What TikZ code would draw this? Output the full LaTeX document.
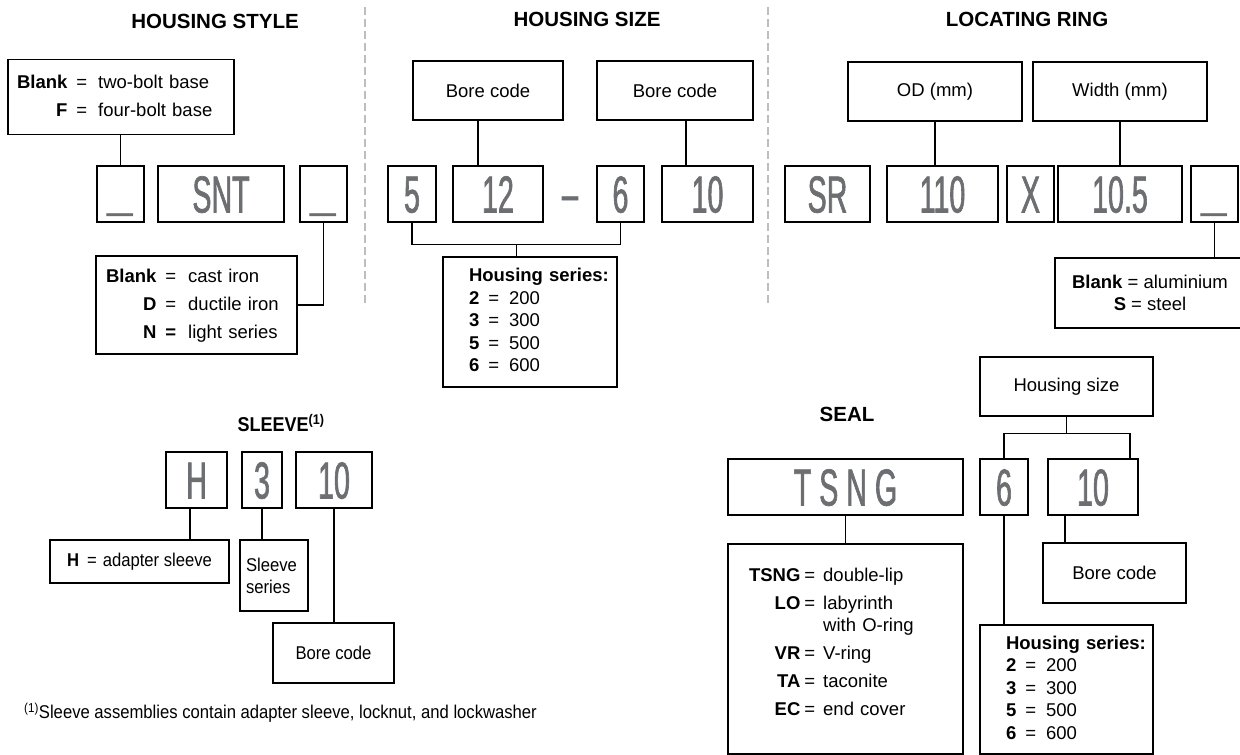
\documentclass[tikz,border=0pt]{standalone}
\usepackage{fontspec}
\setmainfont{Liberation Sans}
\newfontfamily\codefont[FakeStretch=0.55, FakeBold=1.2]{Liberation Sans}
\newfontfamily\narrowfont[FakeStretch=0.9]{Liberation Sans}
\usetikzlibrary{calc}
\definecolor{codegray}{HTML}{6D6E71}
\definecolor{rulegray}{HTML}{BDBEC0}
\newcommand{\blankmark}{\raisebox{5pt}{\normalfont\fontsize{46}{46}\selectfont\_}}
\newcommand{\seriestab}{\begin{tabular}{@{}l@{\hspace{9pt}}c@{\hspace{10pt}}l@{}}
  \multicolumn{3}{@{}l@{}}{\textbf{Housing series:}}\\
  \textbf{2} & = & 200\\
  \textbf{3} & = & 300\\
  \textbf{5} & = & 500\\
  \textbf{6} & = & 600
\end{tabular}}
\tikzset{
  box/.style={draw, line width=1.2pt, inner sep=0pt},
  code/.style={box, minimum height=56pt, text height=37pt, text depth=0pt,
    font=\fontsize{52}{52}\codefont, text=codegray},
  codetext/.style={inner sep=0pt, text height=37pt, text depth=0pt,
    font=\fontsize{52}{52}\codefont, text=codegray},
  note/.style={box, font=\fontsize{18.5}{28}\selectfont},
  heading/.style={font=\fontsize{20.5}{24}\selectfont\bfseries},
  link/.style={line width=1.2pt},
  divider/.style={rulegray, line width=1.3pt, dash pattern=on 8pt off 4pt},
}
\begin{document}
\begin{tikzpicture}[x=1pt, y=-1pt]
    \useasboundingbox (0,0) rectangle (1240,755);

    % headings and dividers
    \node[heading] (tstyle) at (215,21) {HOUSING STYLE};
    \node[heading] (tsize) at (587,19) {HOUSING SIZE};
    \node[heading] (tring) at (1027,19) {LOCATING RING};
    \draw[divider] (365,7) -- (365,307);
    \draw[divider] (768,7) -- (768,307);

    % code row
    \foreach \x/\w/\txt/\name in {
        120.5/47/\blankmark/hsa, 221/126/SNT/hssnt, 323.5/47/\blankmark/hsb,
        412/48/5/sz5, 498/90/12/sz12, 620.5/47/6/sz6, 707.5/91/10/sz10,
        827.5/85/SR/lrsr, 942.5/111/110/lrod110, 1030.5/47/X/lrx,
        1120/124/10.5/lrw105, 1214.5/47/\blankmark/lrb} {
        \node[code, minimum width=\w pt] (\name) at (\x,194) {\txt};
    }
    \node[codetext] (szdash) at (570,193) {–};

    % housing style
    \node[note, minimum width=226pt, minimum height=75pt, text width=208pt, align=left]
        (hsbase) at (121,97) {\begin{tabular}{@{}r@{\hspace{9pt}}c@{\hspace{11pt}}l@{}}
        \textbf{Blank} & = & two-bolt base\\
        \textbf{F} & = & four-bolt base
        \end{tabular}};
    \node[note, minimum width=201pt, minimum height=98pt, text width=181pt, align=left]
        (hsmat) at (196.5,305) {\begin{tabular}{@{}r@{\hspace{9pt}}c@{\hspace{12pt}}l@{}}
        \textbf{Blank} & = & cast iron\\
        \textbf{D} & = & ductile iron\\
        \textbf{N} & \textbf{=} & light series
        \end{tabular}};
    \draw[link] (hsbase.south -| hsa.north) -- (hsa.north);
    \draw[link] (hsb.south) |- (hsmat.east);

    % housing size
    \node[note, minimum width=150pt, minimum height=59pt] (szbore) at (488,90.5) {Bore code};
    \node[note, minimum width=156pt, minimum height=59pt] (szbore2) at (675,90.5) {Bore code};
    \node[note, minimum width=174pt, minimum height=130pt, text width=122pt, align=left,
        font=\fontsize{18.5}{22.5}\selectfont] (szser) at (530,322) {\seriestab};
    \draw[link] ([xshift=-20pt]sz12.north) -- ([xshift=-20pt]sz12.north |- szbore.south);
    \draw[link] ([xshift=-21.5pt]sz10.north) -- ([xshift=-21.5pt]sz10.north |- szbore2.south);
    \coordinate (szjoin) at ($(sz5.south)!0.5!(sz6.south)+(0,22)$);
    \draw[link] (sz5.south) -- (sz5.south |- szjoin) -- (sz6.south |- szjoin) -- (sz6.south);
    \draw[link] (szjoin) -- (szjoin |- szser.north);

    % locating ring
    \node[note, minimum width=174pt, minimum height=59pt] (lrod) at (935,91.5) {OD (mm)};
    \node[note, minimum width=174pt, minimum height=59pt] (lrwidth) at (1120,91.5) {Width (mm)};
    \node[note, minimum width=190pt, minimum height=70pt, align=center,
        font=\fontsize{18.5}{22}\selectfont] (lrmat) at (1150,293)
        {\textbf{Blank} = aluminium\\\textbf{S} = steel};
    \draw[link] (lrod.south) -- (lrod.south |- lrod110.north);
    \draw[link] (lrwidth.south) -- (lrwidth.south |- lrw105.north);
    \draw[link] (lrb.south) -- (lrb.south |- lrmat.north);

    % sleeve
    \node[heading, anchor=west, font=\fontsize{20}{24}\narrowfont\bfseries] (tsleeve) at (234,423)
        {SLEEVE\textsuperscript{(1)}};
    \foreach \x/\w/\txt/\name in {196.5/61/H/slh, 262/40/3/sl3, 334/76/10/sl10} {
        \node[code, minimum width=\w pt] (\name) at (\x,480) {\txt};
    }
    \node[note, minimum width=179pt, minimum height=43pt, font=\fontsize{18.5}{22}\narrowfont]
        (slhnote) at (139.5,561.5) {\textbf{H}\hspace{8pt}=\hspace{6pt}adapter sleeve};
    \node[note, minimum width=68pt, minimum height=71pt, text width=56pt, align=left,
        font=\fontsize{18.5}{22}\narrowfont] (slser) at (274,575.5) {Sleeve\\series};
    \node[note, minimum width=121pt, minimum height=60pt, font=\fontsize{18.5}{22}\narrowfont]
        (slbore) at (333.5,653) {Bore code};
    \draw[link] ([xshift=-6.5pt]slh.south) -- ([xshift=-6.5pt]slh.south |- slhnote.north);
    \draw[link] (sl3.south) -- (sl3.south |- slser.north);
    \draw[link] (sl10.south) -- (sl10.south |- slbore.north);
    \node[anchor=west, inner sep=0pt, font=\fontsize{18.5}{22}\narrowfont] (slfoot) at (24,713)
        {\textsuperscript{(1)}Sleeve assemblies contain adapter sleeve, locknut, and lockwasher};

    % seal
    \node[heading] (tseal) at (847,414) {SEAL};
    \node[note, minimum width=173pt, minimum height=59pt] (sealsize) at (1066.5,386.5) {Housing size};
    \foreach \x/\w/\txt/\name in {
        845.5/235/T\hspace{8pt}S\hspace{8pt}N\hspace{8pt}G/sealt,
        1004/48/6/seal6, 1093/90/10/seal10} {
        \node[code, minimum width=\w pt] (\name) at (\x,487) {\txt};
    }
    \node[note, minimum width=235pt, minimum height=210pt, text width=193pt, align=left,
        font=\fontsize{18.5}{22}\selectfont] (seallist) at (845.5,649)
        {\begin{tabular}{@{}r@{\hspace{4pt}}c@{\hspace{8pt}}l@{}}
        \textbf{TSNG} & = & double-lip\\[6pt]
        \textbf{LO} & = & labyrinth\\
         & & with O-ring\\[6pt]
        \textbf{VR} & = & V-ring\\[6pt]
        \textbf{TA} & = & taconite\\[6pt]
        \textbf{EC} & = & end cover\\[10pt]
        \end{tabular}};
    \node[note, minimum width=173pt, minimum height=129pt, text width=121pt, align=left,
        font=\fontsize{18.5}{22.5}\selectfont] (sealser) at (1066.5,689.5) {\seriestab};
    \node[note, minimum width=143pt, minimum height=60pt] (sealbore) at (1114.5,573) {Bore code};
    \coordinate (sealjoin) at ($(sealsize.south)+(0,17)$);
    \draw[link] (sealsize.south) -- (sealjoin);
    \draw[link] (seal6.north) -- (seal6.north |- sealjoin)
        -- ([xshift=37pt]seal10.north |- sealjoin) -- ([xshift=37pt]seal10.north);
    \draw[link] (sealt.south) -- (sealt.south |- seallist.north);
    \draw[link] (seal6.south) -- (seal6.south |- sealser.north);
    \draw[link] ([xshift=-28pt]seal10.south) -- ([xshift=-28pt]seal10.south |- sealbore.north);
\end{tikzpicture}
\end{document}
